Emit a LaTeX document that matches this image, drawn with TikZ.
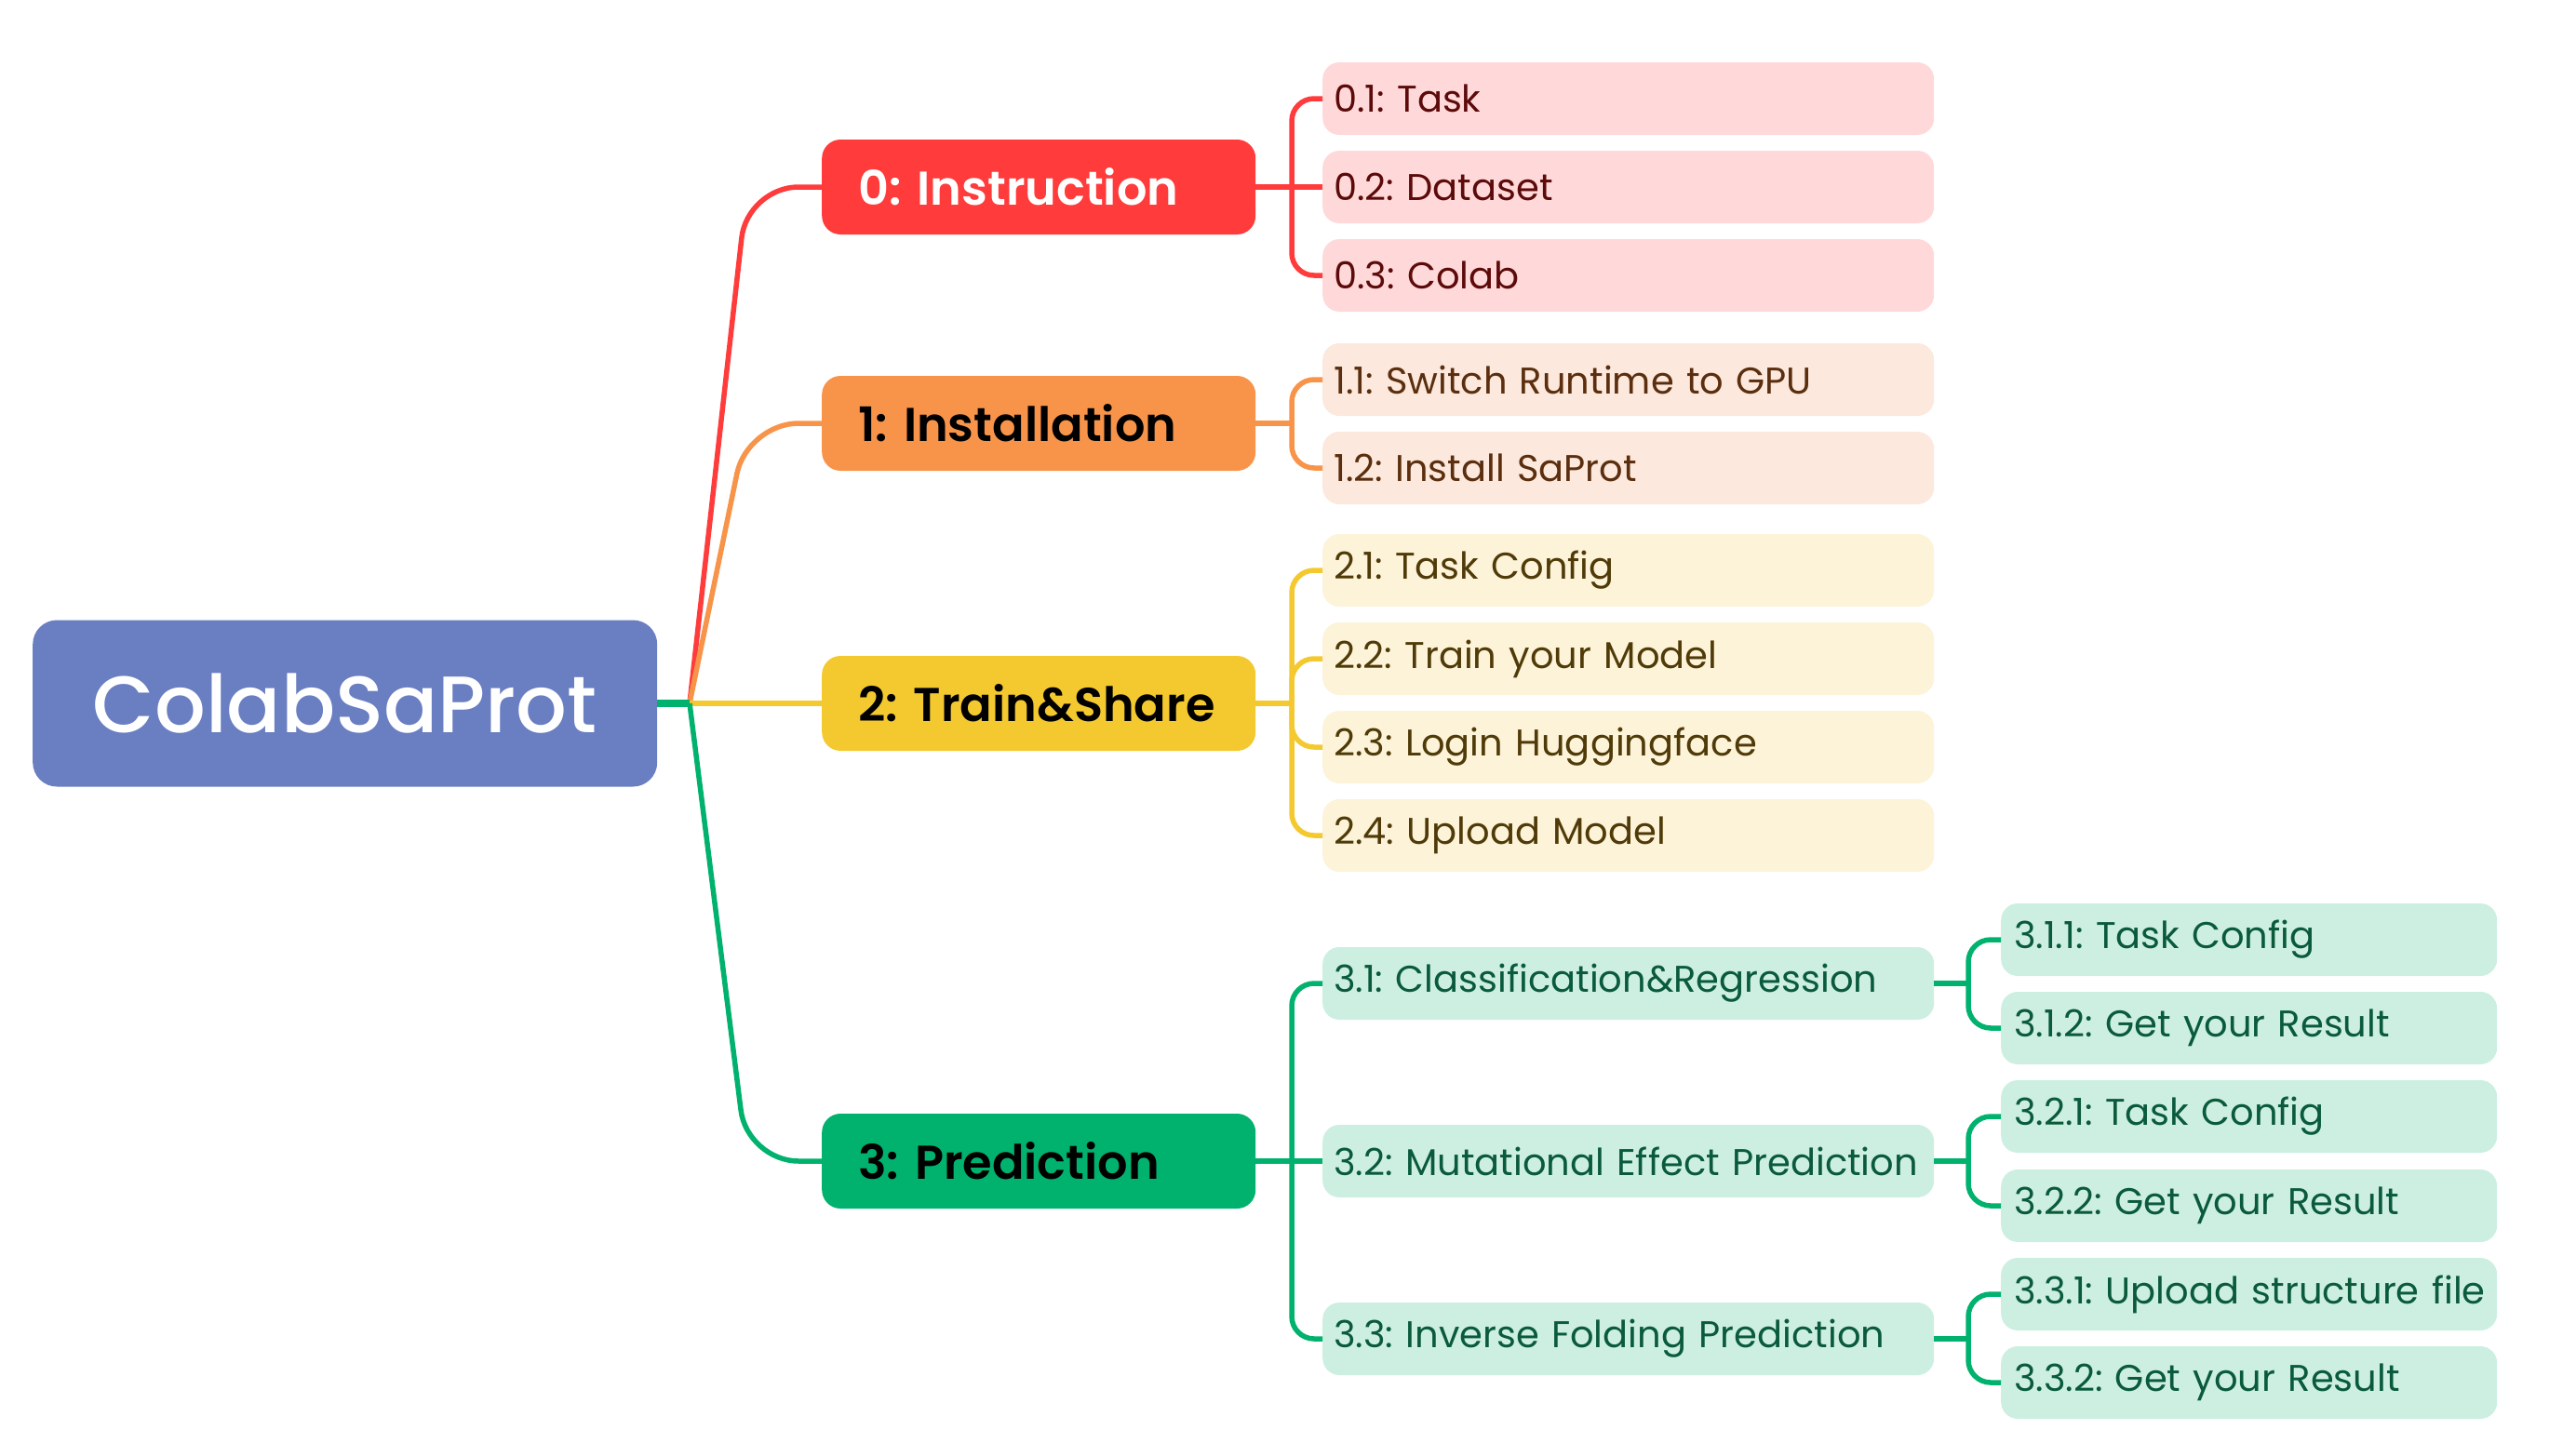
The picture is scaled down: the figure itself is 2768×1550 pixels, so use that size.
\documentclass[tikz,border=0pt]{standalone}
\usepackage{fontspec}
\setmainfont{Poppins}
\newfontfamily\pmedium{Poppins}[UprightFont=* Medium]
\newfontfamily\psemi{Poppins}[UprightFont=* SemiBold]
\usetikzlibrary{calc}
\frenchspacing
\definecolor{cRed}{HTML}{FF3B3B}
\definecolor{fRed}{HTML}{FFD9D9}
\definecolor{tRed}{HTML}{5C0A0A}
\definecolor{cOra}{HTML}{F8944A}
\definecolor{fOra}{HTML}{FCE8DC}
\definecolor{tOra}{HTML}{5A2E0E}
\definecolor{cYel}{HTML}{F4C92F}
\definecolor{fYel}{HTML}{FCF3D8}
\definecolor{tYel}{HTML}{4F3A08}
\definecolor{cGrn}{HTML}{00B26E}
\definecolor{fGrn}{HTML}{CDEFE1}
\definecolor{tGrn}{HTML}{0A5A3C}
\definecolor{cRoot}{HTML}{6A7EC2}
\tikzset{
  rootbox/.style={fill=cRoot, rounded corners=26pt, minimum width=671pt, minimum height=179pt,
    inner sep=0pt, text=white, font=\fontsize{86}{94}\pmedium, anchor=west},
  mainbox/.style={fill=#1, rounded corners=20pt, minimum width=466pt, minimum height=102pt,
    inner xsep=23pt, inner ysep=0pt, text width=420pt, align=left, anchor=west,
    font=\fontsize{51}{58}\psemi},
  leafbox/.style={fill=#1, rounded corners=18pt, minimum width=657pt, minimum height=78pt,
    inner xsep=12pt, inner ysep=0pt, text width=633pt, align=left, anchor=west,
    font=\fontsize{40}{46}\selectfont},
  subbox/.style={fill=#1, rounded corners=18pt, minimum width=533pt, minimum height=78pt,
    inner xsep=2pt, inner ysep=0pt, text width=529pt, align=left, anchor=west,
    font=\fontsize{40}{46}\selectfont},
  rootlink/.style={draw=#1, line width=5.5pt, rounded corners=55pt},
  link/.style={draw=#1, line width=5.5pt, rounded corners=24pt},
}
\newcommand{\padL}{\hspace*{16pt}}
\newcommand{\padS}{\hspace*{12pt}}
\begin{document}
\begin{tikzpicture}[x=1pt,y=-1pt]
\useasboundingbox (0,0) rectangle (2768,1550);
% root
\node[rootbox] (root) at (35,756) {ColabSaProt};
\coordinate (J) at (741,756);
% level 1
\node[mainbox=cRed, text=white] (m0) at (883,201) {\padL 0: Instruction};
\node[mainbox=cOra, text=black] (m1) at (883,455) {\padL 1: Installation};
\node[mainbox=cYel, text=black] (m2) at (883,756) {\padL 2: Train\&Share};
\node[mainbox=cGrn, text=black] (m3) at (883,1248) {\padL 3: Prediction};
% level 2
\node[leafbox=fRed, text=tRed] (l01) at (1421,106) {0.1: Task};
\node[leafbox=fRed, text=tRed] (l02) at (1421,201) {0.2: Dataset};
\node[leafbox=fRed, text=tRed] (l03) at (1421,296) {0.3: Colab};
\node[leafbox=fOra, text=tOra] (l11) at (1421,408) {1.1: Switch Runtime to GPU};
\node[leafbox=fOra, text=tOra] (l12) at (1421,503) {1.2: Install SaProt};
\node[leafbox=fYel, text=tYel] (l21) at (1421,613) {2.1: Task Config};
\node[leafbox=fYel, text=tYel] (l22) at (1421,708) {2.2: Train your Model};
\node[leafbox=fYel, text=tYel] (l23) at (1421,803) {2.3: Login Huggingface};
\node[leafbox=fYel, text=tYel] (l24) at (1421,898) {2.4: Upload Model};
\node[leafbox=fGrn, text=tGrn] (l31) at (1421,1057) {3.1: Classification\&Regression};
\node[leafbox=fGrn, text=tGrn] (l32) at (1421,1248) {3.2: Mutational Effect Prediction};
\node[leafbox=fGrn, text=tGrn] (l33) at (1421,1439) {3.3: Inverse Folding Prediction};
% level 3
\node[subbox=fGrn, text=tGrn] (s311) at (2150,1010) {\padS 3.1.1: Task Config};
\node[subbox=fGrn, text=tGrn] (s312) at (2150,1105) {\padS 3.1.2: Get your Result};
\node[subbox=fGrn, text=tGrn] (s321) at (2150,1200) {\padS 3.2.1: Task Config};
\node[subbox=fGrn, text=tGrn] (s322) at (2150,1296) {\padS 3.2.2: Get your Result};
\node[subbox=fGrn, text=tGrn] (s331) at (2150,1391) {\padS 3.3.1: Upload structure file};
\node[subbox=fGrn, text=tGrn] (s332) at (2150,1486) {\padS 3.3.2: Get your Result};
% root links
\draw[rootlink=cRed] (J) -- (803,201) -- (m0.west);
\draw[rootlink=cOra] (J) -- (803,455) -- (m1.west);
\draw[rootlink=cYel] (J) -- (m2.west);
\draw[rootlink=cGrn] (J) -- (803,1248) -- (m3.west);
\draw[draw=cGrn, line width=8pt] (root.east) -- (J);
% level 1 -> level 2
\draw[link=cRed] (m0.east) -- (l02.west);
\draw[link=cRed] (1388,201) -- (1388,106) -- (l01.west);
\draw[link=cRed] (1388,201) -- (1388,296) -- (l03.west);
\draw[link=cOra] (m1.east) -- (1388,455);
\draw[link=cOra] (1388,455) -- (1388,408) -- (l11.west);
\draw[link=cOra] (1388,455) -- (1388,503) -- (l12.west);
\draw[link=cYel] (m2.east) -- (1388,756);
\draw[link=cYel] (1388,756) -- (1388,613) -- (l21.west);
\draw[link=cYel] (1388,756) -- (1388,708) -- (l22.west);
\draw[link=cYel] (1388,756) -- (1388,803) -- (l23.west);
\draw[link=cYel] (1388,756) -- (1388,898) -- (l24.west);
\draw[link=cGrn] (m3.east) -- (l32.west);
\draw[link=cGrn] (1388,1248) -- (1388,1057) -- (l31.west);
\draw[link=cGrn] (1388,1248) -- (1388,1439) -- (l33.west);
% level 2 -> level 3
\draw[link=cGrn] (l31.east) -- (2115,1057);
\draw[link=cGrn] (2115,1057) -- (2115,1010) -- (s311.west);
\draw[link=cGrn] (2115,1057) -- (2115,1105) -- (s312.west);
\draw[link=cGrn] (l32.east) -- (2115,1248);
\draw[link=cGrn] (2115,1248) -- (2115,1200) -- (s321.west);
\draw[link=cGrn] (2115,1248) -- (2115,1296) -- (s322.west);
\draw[link=cGrn] (l33.east) -- (2115,1439);
\draw[link=cGrn] (2115,1439) -- (2115,1391) -- (s331.west);
\draw[link=cGrn] (2115,1439) -- (2115,1486) -- (s332.west);
\end{tikzpicture}
\end{document}
